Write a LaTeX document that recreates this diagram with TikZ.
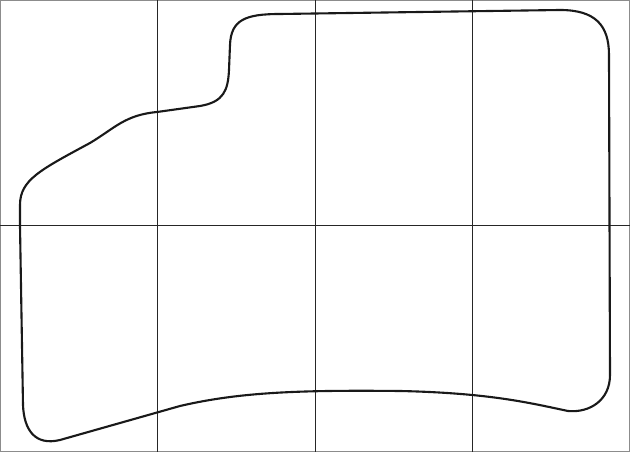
\documentclass[tikz,border=0pt]{standalone}
\usepackage{tikz}
\usetikzlibrary{positioning}

\tikzset{
    gridline/.style={draw=black!85, line width=0.5pt},
    frameline/.style={draw=black!45, line width=0.6pt},
    outline/.style={draw=black!90, line width=1.2pt, line join=round}
}

\begin{document}
\begin{tikzpicture}[x=0.02cm, y=-0.02cm]
        \useasboundingbox (0,0) rectangle (630,452);
        \draw[frameline] (0.5,0.5) rectangle (629.5,451.5);
        
        \foreach \gx in {157, 315, 472}
            \draw[gridline] (\gx,0) -- (\gx,452);
        \draw[gridline] (0,225) -- (630,225);
        
        \coordinate (start) at (20,226);
        \draw[outline] (start) -- (20,205)
            .. controls (20,180) and (40,170) .. (90,143)
            .. controls (115,128) and (125,115) .. (157,112)
            -- (200,106)
            .. controls (224,102) and (228,90) .. (229,70)
            -- (230,45)
            .. controls (231,20) and (245,14) .. (280,14)
            -- (560,10)
            .. controls (595,10) and (609,25) .. (609,55)
            -- (610,375)
            .. controls (610,400) and (590,413) .. (568,411)
            .. controls (530,403) and (490,393) .. (400,391)
            .. controls (300,390) and (240,392) .. (180,406)
            -- (60,440)
            .. controls (35,446) and (24,430) .. (23,405)
            -- cycle;
    \end{tikzpicture}
\end{document}
